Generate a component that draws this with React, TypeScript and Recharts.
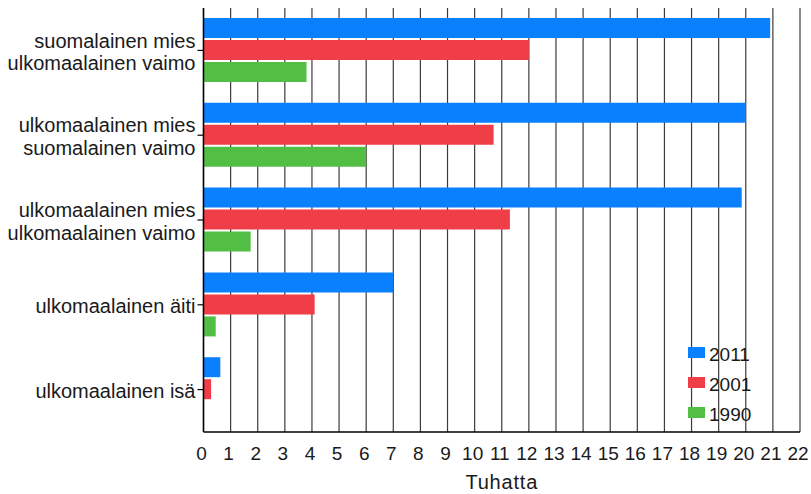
import { Bar, BarChart, CartesianGrid, Legend, XAxis, YAxis } from 'recharts'

const categories = [
  'suomalainen mies\nulkomaalainen vaimo',
  'ulkomaalainen mies\nsuomalainen vaimo',
  'ulkomaalainen mies\nulkomaalainen vaimo',
  'ulkomaalainen äiti',
  'ulkomaalainen isä'
]

const values2011 = [20.9, 20.0, 19.85, 7.0, 0.62]
const values2001 = [12.0, 10.7, 11.3, 4.1, 0.28]
const values1990 = [3.8, 6.0, 1.74, 0.45, 0]

const xTicks = [
  0, 1, 2, 3, 4, 5, 6, 7, 8, 9, 10, 11, 12, 13, 14, 15, 16, 17, 18, 19, 20, 21, 22
]

const series = [
  { key: 'y2011', name: '2011', color: '#0a80ff' },
  { key: 'y2001', name: '2001', color: '#f03e48' },
  { key: 'y1990', name: '1990', color: '#52be44' }
]

const data = categories.map((name, i) => ({
  name,
  y2011: values2011[i],
  y2001: values2001[i],
  y1990: values1990[i]
}))

const FONT = "'Liberation Sans', Arial, sans-serif"
const TEXT = '#1a1a1a'

function CategoryTick({ x, y, payload }: any) {
  const lines = String(payload.value).split('\n')
  const step = 22.5
  return (
    <g>
      {lines.map((line, i) => (
        <text
          key={i}
          x={x}
          y={y + 8.5 + (i - (lines.length - 1) / 2) * step}
          textAnchor="end"
          fontFamily={FONT}
          fontSize={20}
          fill={TEXT}
        >
          {line}
        </text>
      ))}
    </g>
  )
}

function LegendBox() {
  return (
    <div style={{ fontFamily: FONT, fontSize: 19, color: TEXT }}>
      {series.map((s) => (
        <div
          key={s.key}
          style={{ height: 30, display: 'flex', alignItems: 'flex-start', lineHeight: '22px' }}
        >
          <span
            style={{
              display: 'inline-block',
              width: 17,
              height: 11,
              marginTop: 2.5,
              marginRight: 4,
              background: s.color
            }}
          />
          <span>{s.name}</span>
        </div>
      ))}
    </div>
  )
}

export default function App() {
  return (
    <div style={{ position: 'absolute', left: 0, top: 0, background: '#fff' }}>
      <BarChart
        width={811}
        height={494}
        data={data}
        layout="vertical"
        margin={{ top: 8, right: 11, bottom: 0, left: 0 }}
        barCategoryGap={10}
        barGap={2}
      >
        <CartesianGrid horizontal={false} stroke="#3c3c3c" strokeWidth={1.2} />
        <XAxis
          type="number"
          domain={[0, 22]}
          ticks={xTicks}
          interval={0}
          height={62}
          tickLine={false}
          tickMargin={9}
          axisLine={{ stroke: '#000', strokeWidth: 1.5 }}
          tick={{ fontFamily: FONT, fontSize: 19, fill: TEXT, dx: -2 }}
          label={{
            value: 'Tuhatta',
            position: 'insideBottom',
            offset: 5,
            fontFamily: FONT,
            fontSize: 20,
            fill: TEXT,
            letterSpacing: 0.8
          }}
        />
        <XAxis
          xAxisId="top"
          orientation="top"
          type="number"
          domain={[0, 22]}
          height={0}
          tick={false}
          tickLine={false}
          axisLine={{ stroke: '#000', strokeWidth: 1.5 }}
        />
        <YAxis
          type="category"
          dataKey="name"
          width={203.5}
          tick={<CategoryTick />}
          tickLine={{ stroke: '#000', strokeWidth: 1.2 }}
          axisLine={{ stroke: '#000', strokeWidth: 1.5 }}
          interval={0}
        />
        <Legend
          layout="vertical"
          align="center"
          verticalAlign="middle"
          content={<LegendBox />}
          wrapperStyle={{ left: 688, top: 344, width: 'auto', height: 'auto' }}
        />
        {series.map((s) => (
          <Bar
            key={s.key}
            dataKey={s.key}
            name={s.name}
            fill={s.color}
            isAnimationActive={false}
          />
        ))}
      </BarChart>
    </div>
  )
}
